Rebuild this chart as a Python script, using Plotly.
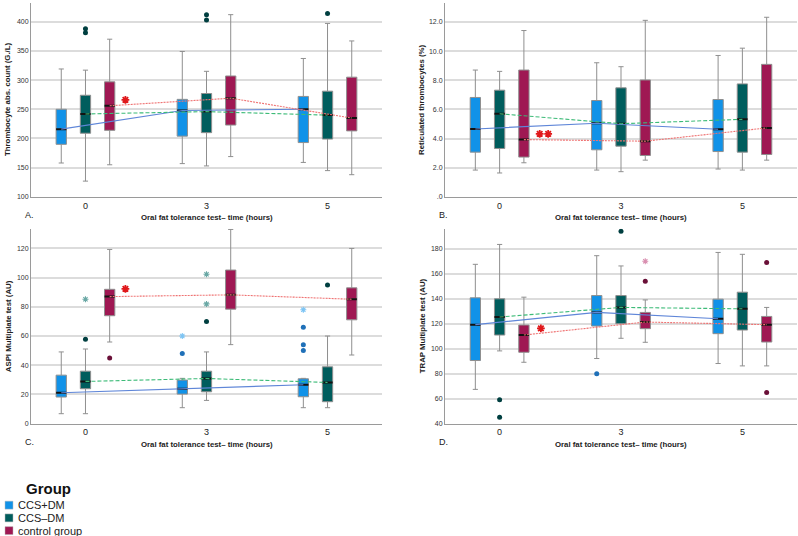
import plotly.graph_objects as go

W, H = 798, 536

time_labels = ["0", "3", "5"]
group_names = ["CCS+DM", "CCS\u2013DM", "control group"]

# rows: CCS+DM, CCS-DM, control group; columns: 0, 3, 5 hours
thr_lo = [[158, 157, 159], [127, 153, 145], [155, 169, 138]]
thr_q1 = [[190, 204, 193], [209, 210, 199], [214, 223, 213]]
thr_med = [[216, 248, 250], [242, 246, 240], [256, 269, 235]]
thr_q3 = [[250, 267, 272], [274, 277, 281], [297, 307, 305]]
thr_hi = [[319, 349, 337], [317, 315, 397], [370, 412, 367]]
thr_out = [(1, 0, 388, "o"), (1, 0, 381, "o"), (1, 1, 412, "o"), (1, 1, 403, "o"), (1, 2, 414, "o")]
thr_sig_x = [0.33]
thr_sig_y = [266]

ret_lo = [[1.84, 1.84, 1.91], [1.64, 1.73, 1.84], [2.34, 2.52, 2.52]]
ret_q1 = [[3.07, 3.23, 3.11], [3.32, 3.48, 3.07], [2.73, 2.84, 2.91]]
ret_med = [[4.66, 5.05, 4.64], [5.70, 5.02, 5.32], [3.93, 3.82, 4.73]]
ret_q3 = [[6.82, 6.61, 6.68], [7.32, 7.48, 7.75], [8.70, 8.02, 9.09]]
ret_hi = [[8.70, 9.20, 9.70], [8.61, 8.93, 10.2], [11.41, 12.11, 12.32]]
ret_out = []
ret_sig_x = [0.33, 0.40]
ret_sig_y = [4.32, 4.32]

aspi_lo = [[6.8, 10.9, 10.9], [6.8, 15.9, 10.9], [55.9, 54.1, 47]]
aspi_q1 = [[18.2, 20.2, 18.4], [23.9, 21.8, 15], [73.9, 78.4, 71.1]]
aspi_med = [[21.1, 23.9, 26.6], [28.9, 30.9, 28.2], [87, 88.2, 85.2]]
aspi_q3 = [[33.2, 29.8, 30.7], [35.9, 35.9, 38.9], [92, 105.2, 93]]
aspi_hi = [[49.1, 31, 31], [51.1, 49.1, 60], [119.3, 133, 120]]
aspi_out = [(1, 0, 57.7, "o"), (1, 0, 85.2, "*"), (2, 0, 45, "o"),
            (0, 1, 48, "o"), (0, 1, 60, "*"), (1, 1, 70, "o"), (1, 1, 82, "*"), (1, 1, 102.3, "*"),
            (0, 2, 66, "o"), (0, 2, 54, "o"), (0, 2, 50, "o"), (0, 2, 78, "*"), (1, 2, 95, "o")]
aspi_sig_x = [0.33]
aspi_sig_y = [92.3]

trap_lo = [[67.4, 92.1, 88.1], [98.2, 108.3, 86.2], [89.1, 105.1, 86.2]]
trap_q1 = [[90.5, 118.1, 112], [110.9, 120, 114.9], [97.1, 116, 105.3]]
trap_med = [[119.2, 129, 123.9], [125.3, 133, 131.9], [110.9, 121.3, 119.2]]
trap_q3 = [[140.7, 142.5, 139.6], [139.9, 142.5, 145.2], [118.9, 129, 125.8]]
trap_hi = [[167.5, 174.4, 177], [183.4, 166.2, 175.5], [141.2, 139, 133]]
trap_out = [(1, 0, 59, "o"), (1, 0, 45, "o"), (0, 1, 80, "o"), (1, 1, 194, "o"),
            (2, 1, 154, "o"), (2, 1, 170, "*"), (2, 2, 169, "o"), (2, 2, 65, "o")]
trap_sig_x = [0.34]
trap_sig_y = [116.2]

FONT = "Liberation Sans, Arial, sans-serif"
fill = ["#1192e8", "#005d5d", "#9f1853"]
dot_col = ["#1f70b8", "#003f40", "#6a1038"]
star_col = ["#7cc4f4", "#6aa8a5", "#d98fb0"]
trend_col = ["#5f86d8", "#3dbb78", "#ef7373"]
trend_dash = ["solid", "4px,2px", "2px,1px"]
offset = [-0.2, 0.0, 0.2]
BW = 0.085

fig = go.Figure()


def px_x(p):
    return p / W


def px_y(p):
    return 1 - p / H


def add_panel(n, lo, q1, med, q3, hi, outs, sig_x, sig_y):
    xa = "x" if n == 1 else f"x{n}"
    ya = "y" if n == 1 else f"y{n}"
    t = list(range(len(time_labels)))
    for g in range(3):
        xs = [i + offset[g] for i in t]
        fig.add_trace(go.Box(
            x=xs, q1=q1[g], median=med[g], q3=q3[g], lowerfence=lo[g], upperfence=hi[g],
            width=BW, fillcolor=fill[g], line=dict(color="#8f8f8f", width=1),
            whiskerwidth=0.5, xaxis=xa, yaxis=ya, showlegend=False, hoverinfo="skip"))
        # dark median bar
        fig.add_trace(go.Box(
            x=xs, q1=med[g], median=med[g], q3=med[g], lowerfence=med[g], upperfence=med[g],
            width=BW, fillcolor="rgba(0,0,0,0)", line=dict(color="#111111", width=2),
            whiskerwidth=0, xaxis=xa, yaxis=ya, showlegend=False, hoverinfo="skip"))
    for g in range(3):
        xs = [i + offset[g] for i in t]
        fig.add_trace(go.Scatter(
            x=xs, y=med[g], mode="lines", xaxis=xa, yaxis=ya, showlegend=False,
            line=dict(color=trend_col[g], dash=trend_dash[g], width=1.1), hoverinfo="skip"))
    for kind in ["o", "*"]:
        for g in range(3):
            pts = [(ti + offset[g], v) for (gg, ti, v, k) in outs if gg == g and k == kind]
            if not pts:
                continue
            if kind == "o":
                mk = dict(symbol="circle", size=5, color=dot_col[g])
            else:
                mk = dict(symbol="asterisk-open", size=5, color=star_col[g],
                          line=dict(color=star_col[g], width=1.1))
            fig.add_trace(go.Scatter(
                x=[p[0] for p in pts], y=[p[1] for p in pts], mode="markers", marker=mk,
                xaxis=xa, yaxis=ya, showlegend=False, hoverinfo="skip"))
    fig.add_trace(go.Scatter(
        x=sig_x, y=sig_y, mode="markers", xaxis=xa, yaxis=ya, showlegend=False,
        marker=dict(symbol="asterisk-open", size=6.5, color="#e0181b",
                    line=dict(color="#e0181b", width=1.8)),
        hoverinfo="skip"))


add_panel(1, thr_lo, thr_q1, thr_med, thr_q3, thr_hi, thr_out, thr_sig_x, thr_sig_y)
add_panel(2, ret_lo, ret_q1, ret_med, ret_q3, ret_hi, ret_out, ret_sig_x, ret_sig_y)
add_panel(3, aspi_lo, aspi_q1, aspi_med, aspi_q3, aspi_hi, aspi_out, aspi_sig_x, aspi_sig_y)
add_panel(4, trap_lo, trap_q1, trap_med, trap_q3, trap_hi, trap_out, trap_sig_x, trap_sig_y)

# panel boxes in pixels: (left, right, top, bottom)
boxes = {1: (31, 382, 3, 198), 2: (445, 797, 3, 198), 3: (31, 382, 230, 426), 4: (445, 797, 230, 426)}
yranges = {1: [100, 432], 2: [0, 13.3], 3: [0, 133.5], 4: [40, 196]}
yticks = {
    1: ([100, 150, 200, 250, 300, 350, 400], ["100", "150", "200", "250", "300", "350", "400"]),
    2: ([0, 2, 4, 6, 8, 10, 12], [".0", "2.0", "4.0", "6.0", "8.0", "10.0", "12.0"]),
    3: ([0, 20, 40, 60, 80, 100, 120], ["0", "20", "40", "60", "80", "100", "120"]),
    4: ([40, 60, 80, 100, 120, 140, 160, 180], ["40", "60", "80", "100", "120", "140", "160", "180"]),
}
ytitles = {1: "Thrombocyte abs. count (G./L)", 2: "Reticulated thrombocytes (%)",
           3: "ASPI Multiplate test (AU)", 4: "TRAP Multiplate test (AU)"}
letters = {1: "A.", 2: "B.", 3: "C.", 4: "D."}

layout = dict(
    width=W, height=H, margin=dict(l=0, r=0, t=0, b=0),
    paper_bgcolor="white", plot_bgcolor="white", boxmode="overlay",
    font=dict(family=FONT, color="#222"),
)
annotations = []
shapes = []
for n, (l, r, t, b) in boxes.items():
    sx = "" if n == 1 else str(n)
    layout["xaxis" + sx] = dict(
        domain=[px_x(l), px_x(r)], anchor="y" + sx, range=[-0.45, 2.45],
        tickvals=[0, 1, 2], ticktext=time_labels, showgrid=False, zeroline=False,
        showline=True, linecolor="#9a9a9a", linewidth=1, ticks="",
        tickfont=dict(size=9, color="#222"), fixedrange=True)
    layout["yaxis" + sx] = dict(
        domain=[px_y(b), px_y(t)], anchor="x" + sx, range=yranges[n],
        tickvals=yticks[n][0], ticktext=yticks[n][1], showgrid=True,
        gridcolor="#dcdcdc", gridwidth=1.5, zeroline=False, showline=True,
        linecolor="#9a9a9a", linewidth=1, ticks="", tickfont=dict(size=7, color="#333"),
        fixedrange=True)
    cx = (l + r) / 2
    annotations.append(dict(text="<b>Oral fat tolerance test\u2013 time (hours)</b>", xref="paper", yref="paper",
                            x=px_x(cx), y=px_y(b + 21), xanchor="center", yanchor="middle",
                            showarrow=False, font=dict(size=7.8, color="#222")))
    annotations.append(dict(text=letters[n], xref="paper", yref="paper",
                            x=px_x(l - 8), y=px_y(b + 18), xanchor="left", yanchor="middle",
                            showarrow=False, font=dict(size=9, color="#222")))
    annotations.append(dict(text="<b>" + ytitles[n] + "</b>", xref="paper", yref="paper",
                            x=px_x(l - 23), y=px_y((t + b) / 2), xanchor="center", yanchor="middle",
                            textangle=-90, showarrow=False, font=dict(size=7.8, color="#222")))

# legend
annotations.append(dict(text="<b>Group</b>", xref="paper", yref="paper", x=px_x(24), y=px_y(491),
                        xanchor="left", yanchor="middle", showarrow=False,
                        font=dict(size=15, color="#111")))
for g, name in enumerate(group_names):
    yc = 508 + g * 12.8
    shapes.append(dict(type="rect", xref="paper", yref="paper", x0=px_x(5), x1=px_x(13),
                       y0=px_y(yc + 4), y1=px_y(yc - 4), fillcolor=fill[g],
                       line=dict(color="#bbbbbb", width=0.5)))
    annotations.append(dict(text=name, xref="paper", yref="paper", x=px_x(16), y=px_y(yc),
                            xanchor="left", yanchor="middle", showarrow=False,
                            font=dict(size=11, color="#222")))

layout["annotations"] = annotations
layout["shapes"] = shapes
fig.update_layout(**layout)

fig.write_html("out.html", config={"displayModeBar": False},
               post_script="document.body.style.margin='0';document.body.style.overflow='hidden';")
